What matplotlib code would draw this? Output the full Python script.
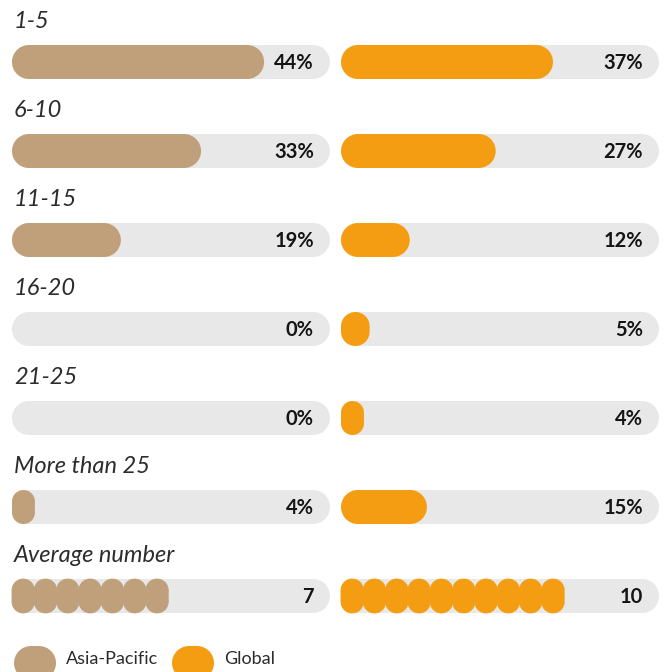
import matplotlib.pyplot as plt
from matplotlib.path import Path
from matplotlib.patches import PathPatch

categories = ["1-5", "6-10", "11-15", "16-20", "21-25", "More than 25"]
asia_pacific = [44, 33, 19, 0, 0, 4]
global_pct = [37, 27, 12, 5, 4, 15]
avg_label = "Average number"
avg_asia = 7
avg_global = 10
series_names = ["Asia-Pacific", "Global"]

TAN = "#C0A07A"
ORANGE = "#F59D12"
TRACK = "#E8E8E8"
INK = "#151515"

W, H = 670, 672
PCT_MAX = 55.5     # percent that fills a whole track
AVG_MAX = 14.25    # count that fills a whole track
ROW0, ROW_STEP = 62, 89   # px, centre of first row and row spacing
BAR_H = 34 / ROW_STEP     # bar height in row units
TRACK_W = 318

plt.rcParams['font.family'] = ['Lato', 'DejaVu Sans']
fig = plt.figure(figsize=(W / 100, H / 100), dpi=100)


def make_axes(left_px, xmax):
    ax = fig.add_axes([left_px / W, 0, TRACK_W / W, 1])
    ax.set_xlim(0, xmax)
    ax.set_ylim((H - ROW0) / ROW_STEP, -ROW0 / ROW_STEP)
    ax.axis("off")
    return ax


def px_x(ax):
    lo, hi = ax.get_xlim()
    return TRACK_W / (hi - lo)


def rounded(ax, x0, x1, yc, color, h=BAR_H, ec="none"):
    sx, sy = px_x(ax), ROW_STEP
    hw = h / 2
    r = min((x1 - x0) * sx, h * sy) / 2
    rx, ry = r / sx, r / sy
    corners = [((x1 - rx, yc - hw + ry), -90, 0), ((x1 - rx, yc + hw - ry), 0, 90),
               ((x0 + rx, yc + hw - ry), 90, 180), ((x0 + rx, yc - hw + ry), 180, 270)]
    verts, codes = [], []
    for (cx, cy), a0, a1 in corners:
        arc = Path.arc(a0, a1)
        c = list(arc.codes)
        if verts:
            c[0] = Path.LINETO
        verts.extend(arc.vertices * [rx, ry] + [cx, cy])
        codes.extend(c)
    verts.append(verts[0])
    codes.append(Path.CLOSEPOLY)
    ax.add_patch(PathPatch(Path(verts, codes), fc=color, ec=ec, lw=0.6, clip_on=False))


def value_label(ax, y, text):
    ax.annotate(text, xy=(ax.get_xlim()[1], y), xytext=(-16 * 0.72, -1),
                textcoords="offset points", ha="right", va="center",
                fontsize=14.5, fontweight="bold", color=INK)


def row_title(ax, y, text):
    ax.annotate(text, xy=(0, y - 0.45), xytext=(2 * 0.72, 0), textcoords="offset points",
                ha="left", va="center", fontsize=17, fontstyle="italic",
                color="#2c2c2c")


panels = [(12, asia_pacific, avg_asia, TAN), (341, global_pct, avg_global, ORANGE)]
n = len(categories)
for k, (left, vals, avg, color) in enumerate(panels):
    ax = make_axes(left, PCT_MAX)
    for i, v in enumerate(vals):
        rounded(ax, 0, PCT_MAX, i, TRACK)
        if v > 0:
            rounded(ax, 0, v, i, color)
        value_label(ax, i, f"{v}%")
        if k == 0:
            row_title(ax, i, categories[i])
    # average row on its own count scale
    axa = make_axes(left, AVG_MAX)
    rounded(axa, 0, AVG_MAX, n, TRACK)
    for j in range(avg):
        rounded(axa, j, j + 1, n, color, ec=color)
    value_label(axa, n, str(avg))
    if k == 0:
        row_title(axa, n, avg_label)

# legend
ax = fig.axes[0]
s = px_x(ax)
ly = (663 - ROW0) / ROW_STEP
for name, color, x_px in zip(series_names, [TAN, ORANGE], [2, 160]):
    rounded(ax, x_px / s, (x_px + 42) / s, ly, color)
    ax.text((x_px + 52) / s, (659 - ROW0) / ROW_STEP, name, ha="left", va="center",
            fontsize=13, color="#2c2c2c", clip_on=False)

fig.savefig("out.png", dpi=100)
